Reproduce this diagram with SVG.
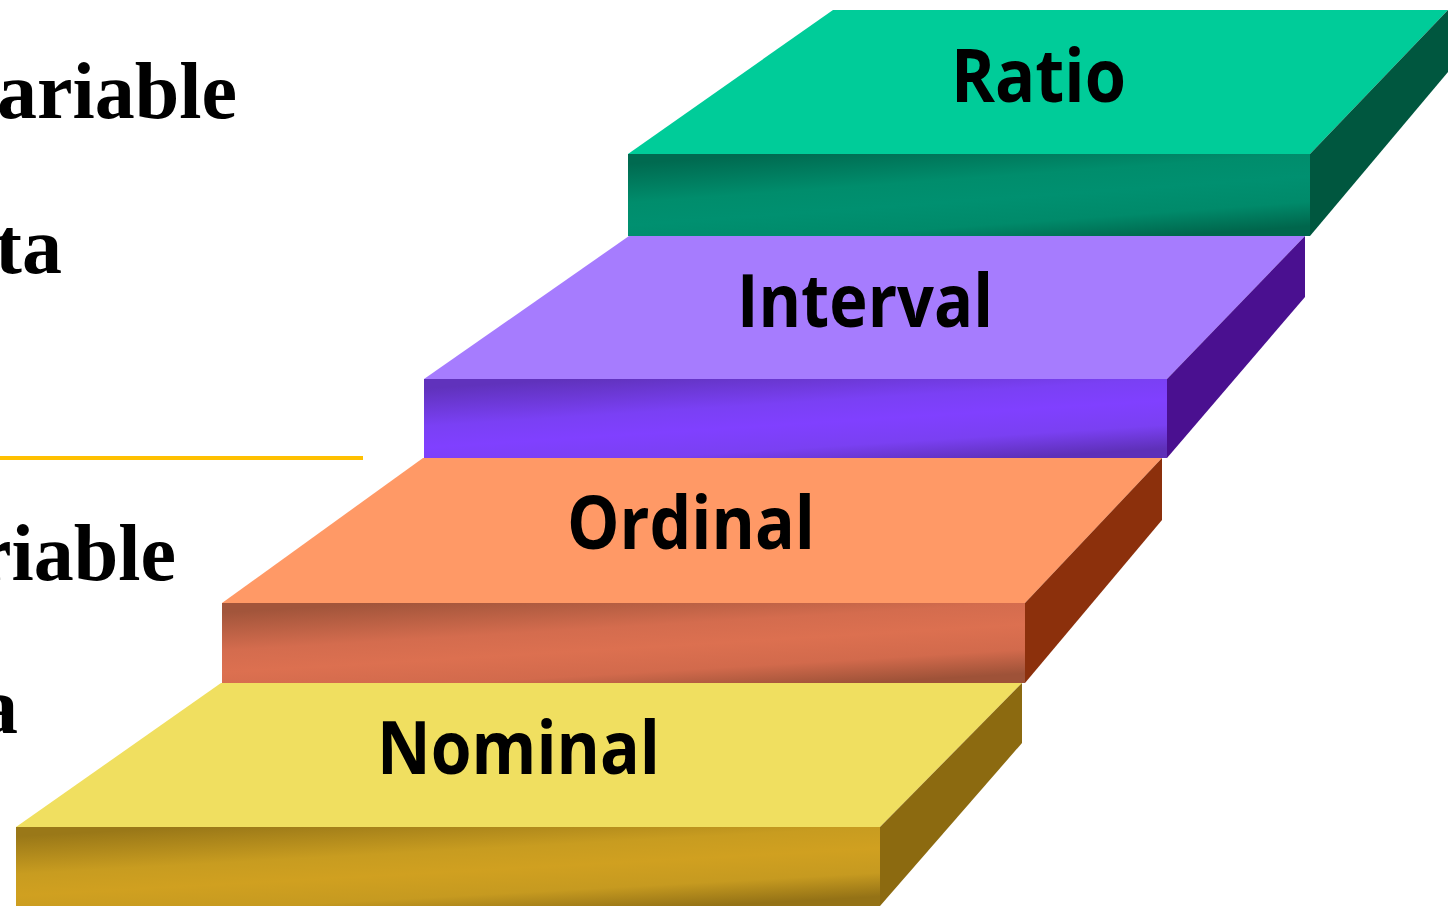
<svg xmlns="http://www.w3.org/2000/svg" width="1450" height="906" viewBox="0 0 1450 906">
  <style>
    .side-text { font-family: "Liberation Serif", "Times New Roman", serif; font-weight: bold; font-size: 80px; fill: #000; }
    .label { font-family: "Open Sans", "Noto Sans", sans-serif; font-weight: bold; font-size: 73px; fill: #000; }
  </style>
  <defs>
    <linearGradient id="frontRatio" x1="0.2" y1="0" x2="0.8" y2="1">
      <stop offset="0" stop-color="#006a50"/>
      <stop offset="0.35" stop-color="#008d6c"/>
      <stop offset="0.55" stop-color="#009070"/>
      <stop offset="0.78" stop-color="#008a6a"/>
      <stop offset="1" stop-color="#00664c"/>
    </linearGradient>
    <linearGradient id="frontInterval" x1="0.2" y1="0" x2="0.8" y2="1">
      <stop offset="0" stop-color="#6032bc"/>
      <stop offset="0.35" stop-color="#7a40f4"/>
      <stop offset="0.55" stop-color="#8040ff"/>
      <stop offset="0.78" stop-color="#7a40f2"/>
      <stop offset="1" stop-color="#5e30b8"/>
    </linearGradient>
    <linearGradient id="frontOrdinal" x1="0.2" y1="0" x2="0.8" y2="1">
      <stop offset="0" stop-color="#a2553b"/>
      <stop offset="0.35" stop-color="#d46c4e"/>
      <stop offset="0.55" stop-color="#dc7050"/>
      <stop offset="0.78" stop-color="#d26a4c"/>
      <stop offset="1" stop-color="#9e5238"/>
    </linearGradient>
    <linearGradient id="frontNominal" x1="0.2" y1="0" x2="0.8" y2="1">
      <stop offset="0" stop-color="#9a7818"/>
      <stop offset="0.35" stop-color="#c89c20"/>
      <stop offset="0.55" stop-color="#d0a020"/>
      <stop offset="0.78" stop-color="#c69a20"/>
      <stop offset="1" stop-color="#947216"/>
    </linearGradient>
  </defs>

  <rect width="1450" height="906" fill="#ffffff"/>

  <!-- slide text running off the left edge -->
  <g id="left-text">
    <text class="side-text" x="237" y="118" text-anchor="end">ariable</text>
    <text class="side-text" x="62" y="273" text-anchor="end">ta</text>
    <line x1="0" y1="458" x2="363" y2="458" stroke="#ffc000" stroke-width="4"/>
    <text class="side-text" x="176" y="580" text-anchor="end">riable</text>
    <text class="side-text" x="18" y="733" text-anchor="end">a</text>
  </g>

  <!-- staircase, bottom step first -->
  <g id="step-nominal">
    <polygon points="16,827 221,683 1022,683 880,827" fill="#f0df60"/>
    <rect x="16" y="827" width="864" height="79" fill="url(#frontNominal)"/>
    <polygon points="880,827 1022,683 1022,743 880,906" fill="#8c6a10"/>
    <text class="label" x="377" y="774" textLength="283" lengthAdjust="spacingAndGlyphs">Nominal</text>
  </g>

  <g id="step-ordinal">
    <polygon points="222,603 423,458 1162,458 1025,603" fill="#ff9966"/>
    <rect x="222" y="603" width="803" height="80" fill="url(#frontOrdinal)"/>
    <polygon points="1025,603 1162,458 1162,520 1025,683" fill="#8c300c"/>
    <text class="label" x="567" y="549" textLength="248" lengthAdjust="spacingAndGlyphs">Ordinal</text>
  </g>

  <g id="step-interval">
    <polygon points="424,379 629,236 1305,236 1167,379" fill="#a67cfe"/>
    <rect x="424" y="379" width="743" height="79" fill="url(#frontInterval)"/>
    <polygon points="1167,379 1305,236 1305,297 1167,458" fill="#4a1090"/>
    <text class="label" x="737" y="327" textLength="256" lengthAdjust="spacingAndGlyphs">Interval</text>
  </g>

  <g id="step-ratio">
    <polygon points="628,154 833,10 1448,10 1310,154" fill="#00cc99"/>
    <rect x="628" y="154" width="682" height="82" fill="url(#frontRatio)"/>
    <polygon points="1310,154 1448,10 1448,72 1310,236" fill="#00573f"/>
    <text class="label" x="951" y="102" textLength="175" lengthAdjust="spacingAndGlyphs">Ratio</text>
  </g>

  <g id="connectors"/>
</svg>
